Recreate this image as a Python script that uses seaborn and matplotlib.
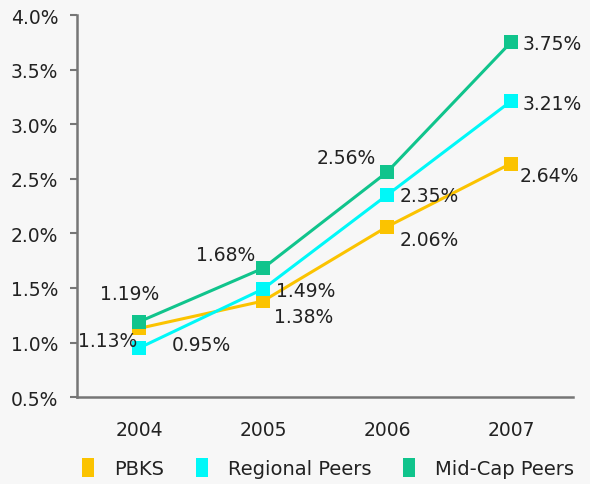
import matplotlib
matplotlib.use("Agg")
import matplotlib.pyplot as plt
import seaborn as sns
import pandas as pd
from matplotlib.patches import Patch

years = ["2004", "2005", "2006", "2007"]
pbks = [1.13, 1.38, 2.06, 2.64]
regional = [0.95, 1.49, 2.35, 3.21]
midcap = [1.19, 1.68, 2.56, 3.75]
series_names = ["PBKS", "Regional Peers", "Mid-Cap Peers"]
yticks = [0.5, 1.0, 1.5, 2.0, 2.5, 3.0, 3.5, 4.0]

colors = {"PBKS": "#FBC300", "Regional Peers": "#00F8F8", "Mid-Cap Peers": "#10C48C"}

rows = []
for name, vals in zip(series_names, [pbks, regional, midcap]):
    for y, v in zip(years, vals):
        rows.append({"Year": y, "Value": v, "Series": name})
df = pd.DataFrame(rows)

sns.set_theme(style="white")
plt.rcParams['font.family'] = ['DejaVu Sans']

FS = 13.5
fig = plt.figure(figsize=(5.9, 4.85), dpi=100, facecolor="#f7f7f7")
ax = fig.add_axes([0.1305, 0.179, 0.8405, 0.788])
ax.set_facecolor("#f7f7f7")

sns.lineplot(data=df, x="Year", y="Value", hue="Series", hue_order=series_names,
             palette=colors, marker="s", markersize=9.5, markeredgewidth=0,
             linewidth=2.2, ax=ax, legend=False, sort=False)

ax.set_xlim(-0.5, 3.5)
ax.set_ylim(0.5, 4.0)
ax.set_yticks(yticks)
ax.set_yticklabels([f"{t:.1f}%" for t in yticks])
ax.set_xlabel("")
ax.set_ylabel("")
for s in ["top", "right"]:
    ax.spines[s].set_visible(False)
for s in ["left", "bottom"]:
    ax.spines[s].set_color("#767676")
    ax.spines[s].set_linewidth(1.8)
ax.tick_params(axis="y", which="both", left=True, length=5, width=1.5, color="#767676",
               labelsize=FS, labelcolor="#222222", pad=8.5)
ax.tick_params(axis="x", bottom=False, labelsize=FS, labelcolor="#222222", pad=10.5)

# label offsets in pixels (dx, dy) per series per year
offsets = {
    "PBKS": [(-31, -12), (41, -15), (42, -13), (38, -12)],
    "Regional Peers": [(62, 4), (43, -1), (42, 0), (41, -2)],
    "Mid-Cap Peers": [(-9, 28), (-37, 14), (-41, 15), (41, -1)],
}
for name, vals in zip(series_names, [pbks, regional, midcap]):
    for i, v in enumerate(vals):
        dx, dy = offsets[name][i]
        ax.annotate(f"{v:.2f}%", (i, v), xytext=(dx, dy), textcoords="offset pixels",
                    ha="center", va="center", fontsize=FS, color="#222222")

handles = [Patch(facecolor=colors[n], edgecolor="none", label=n) for n in series_names]
fig.legend(handles=handles, loc="center left", bbox_to_anchor=(82 / 590, 1 - 469 / 485),
           ncol=3, frameon=False, fontsize=14, handlelength=0.62, handleheight=1.15,
           handletextpad=1.05, columnspacing=1.6, borderpad=0, borderaxespad=0,
           labelcolor="#222222")

fig.savefig("out.png", dpi=100, facecolor=fig.get_facecolor())
